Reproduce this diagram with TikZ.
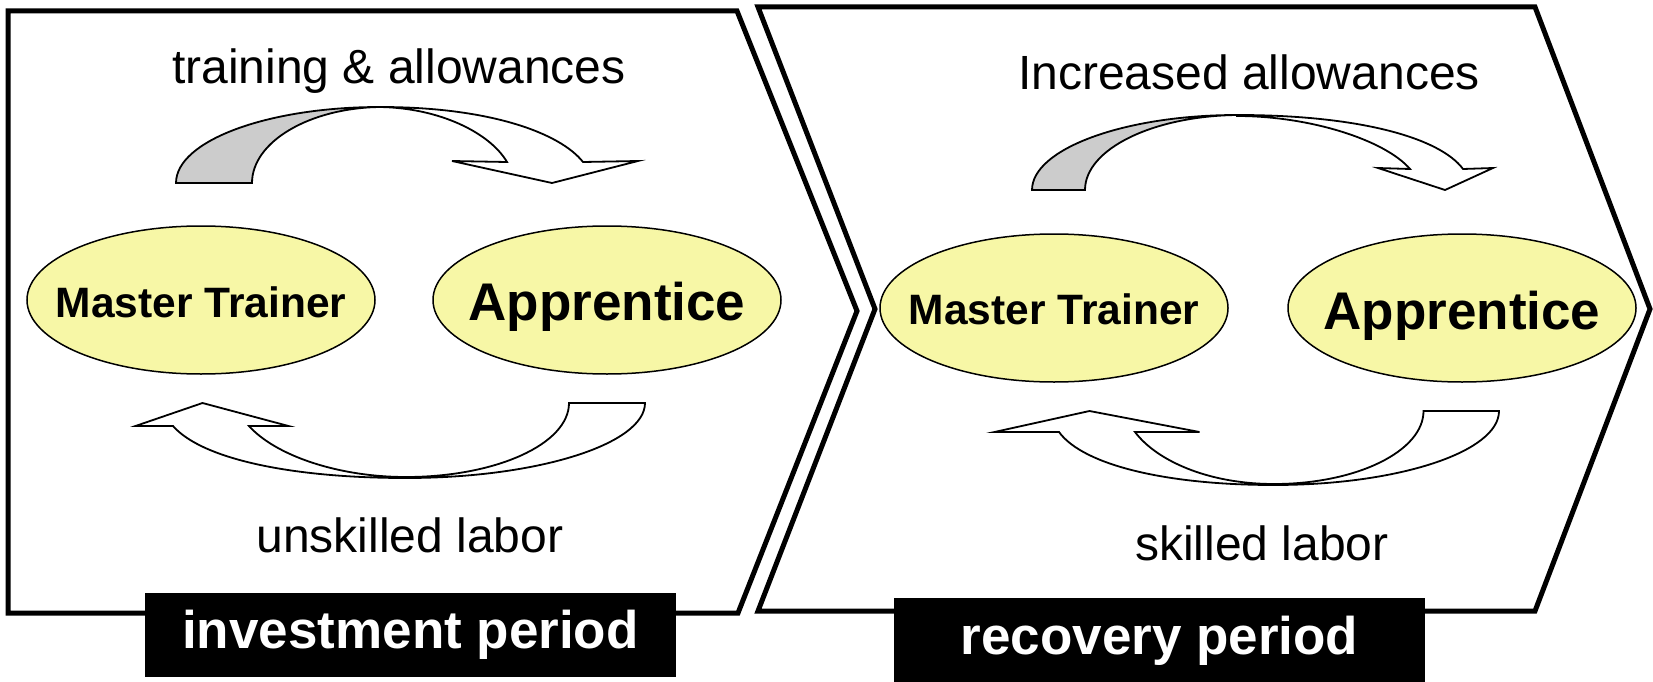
\documentclass[tikz,border=0pt]{standalone}
\usepackage{fontspec}
\setmainfont{Liberation Sans}
\usetikzlibrary{shapes.geometric}
\definecolor{ellfill}{RGB}{247,247,166}
\definecolor{tailgray}{RGB}{204,204,204}
\begin{document}
\begin{tikzpicture}[x=1pt,y=-1pt,
  chev/.style={draw=black, line width=5pt, fill=white, line join=miter},
  arr/.style={draw=black, line width=1.8pt, fill=white, line join=miter},
  tailpart/.style={draw=black, line width=1.8pt, fill=tailgray},
  oval/.style={ellipse, draw=black, line width=1.5pt, fill=ellfill, minimum width=348pt, minimum height=148pt, inner sep=0pt},
  lbl/.style={font=\fontsize{48}{56}\selectfont, anchor=base, inner sep=0pt},
  mtxt/.style={font=\bfseries\fontsize{42.5}{50}\selectfont, anchor=base, inner sep=0pt},
  atxt/.style={font=\bfseries\fontsize{53}{60}\selectfont, anchor=base, inner sep=0pt},
  period/.style={fill=black, text=white, font=\bfseries\fontsize{53}{60}\selectfont, inner sep=0pt, minimum width=531pt, minimum height=84pt}]
\useasboundingbox (0,0) rectangle (1653,682);
\fill[white] (0,0) rectangle (1653,682);

% chevrons
\draw[chev] (8,11) -- (737,11) -- (857,311) -- (738,613) -- (8,613) -- cycle;
\draw[chev] (758,7) -- (1535,7) -- (1650,309) -- (1535,611) -- (758,611) -- (875,309) -- cycle;

% period labels
\node[period] (inv) at (410.5,635) {investment period};
\node[period, minimum height=86pt] (rec) at (1159.5,641) {recovery period};

% ellipses
\node[oval] (mt1) at (201,300) {};
\node[oval] (ap1) at (607,300) {};
\node[oval] (mt2) at (1054,308) {};
\node[oval] (ap2) at (1462,308) {};
\node[mtxt] (mt1t) at ([yshift=-17pt]mt1.center) {Master Trainer};
\node[atxt] (ap1t) at ([yshift=-20pt]ap1.center) {Apprentice};
\node[mtxt] (mt2t) at ([yshift=-16.5pt]mt2.center) {Master Trainer};
\node[atxt] (ap2t) at ([yshift=-21pt]ap2.center) {Apprentice};

% flow labels
\node[lbl] (t1) at (399,84) {training \& allowances};
\node[lbl] (t2) at (1249,90) {Increased allowances};
\node[lbl] (t3) at (410,552) {unskilled labor};
\node[lbl] (t4) at (1262,560) {skilled labor};

% top-left curved arrow
\draw[tailpart] (176,183) .. controls (176,141) and (267,107) .. (380,107)
  .. controls (309,108) and (252,142) .. (252,183) -- cycle;
\draw[arr] (380,107) .. controls (490,107) and (560,133) .. (583,162)
  -- (638,161) -- (552,183) -- (452,161) -- (507,162)
  .. controls (490,133) and (440,108) .. (380,107) -- cycle;

% bottom-left curved arrow
\draw[arr] (569,403) -- (645,403) .. controls (645,444) and (538,478) .. (406,478)
  .. controls (295,478) and (203,460) .. (173,426)
  -- (135.5,426) -- (202.5,403) -- (288.5,426) -- (249,426)
  .. controls (275,455) and (337,477) .. (406,477)
  .. controls (496,477) and (569,444) .. (569,403) -- cycle;

% top-right curved arrow
\draw[tailpart] (1032,190) .. controls (1032,149) and (1124,115) .. (1237,115)
  .. controls (1153,116) and (1085,149) .. (1085,190) -- cycle;
\draw[arr] (1237,115) .. controls (1360,115) and (1440,138) .. (1463,169)
  -- (1493,168) -- (1445,190) -- (1378,168) -- (1410,169)
  .. controls (1385,140) and (1310,116) .. (1237,116) -- cycle;

% bottom-right curved arrow
\draw[arr] (1423.5,411) -- (1499,411) .. controls (1499,452) and (1398,485) .. (1274,485)
  .. controls (1166,485) and (1083,465) .. (1059,432)
  -- (994.5,432) -- (1089.5,411) -- (1199.5,432) -- (1135,432)
  .. controls (1156,460) and (1207,484) .. (1274,484)
  .. controls (1357,484) and (1423.5,451) .. (1423.5,411) -- cycle;
\end{tikzpicture}
\end{document}
